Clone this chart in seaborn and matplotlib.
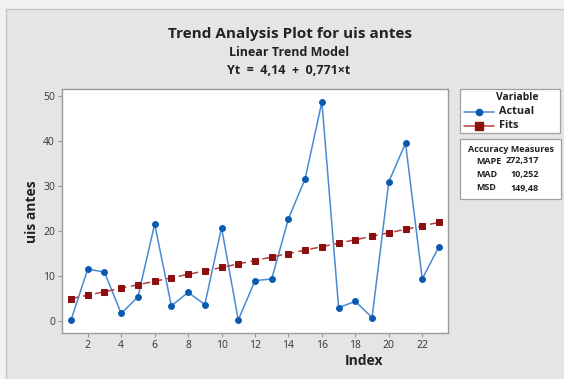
import matplotlib
matplotlib.use("Agg")
import matplotlib.pyplot as plt
from matplotlib.patches import Rectangle
from matplotlib.lines import Line2D
import seaborn as sns
import pandas as pd

# Observations of "uis antes" by index
index = list(range(1, 24))
actual = [0.15, 11.5, 10.8, 1.6, 5.3, 21.5, 3.3, 6.3, 3.6, 20.7, 0.15, 8.9,
          9.3, 22.7, 31.6, 48.7, 2.9, 4.3, 0.7, 30.9, 39.5, 9.3, 16.5]
# Fitted linear trend Yt = 4.14 + 0.771*t
fits = [4.911, 5.682, 6.453, 7.224, 7.995, 8.766, 9.537, 10.308, 11.079, 11.850,
        12.621, 13.392, 14.163, 14.934, 15.705, 16.476, 17.247, 18.018, 18.789,
        19.560, 20.331, 21.102, 21.873]
y_ticks = [0, 10, 20, 30, 40, 50]
x_ticks = [2, 4, 6, 8, 10, 12, 14, 16, 18, 20, 22]
measure_names = ["MAPE", "MAD", "MSD"]
measure_values = ["272,317", "10,252", "149,48"]

sns.set_theme(style="white")
plt.rcParams["font.family"] = ["Open Sans", "DejaVu Sans"]

OUTER = "#f2f2f2"
BG = "#e5e5e5"
BLUE = "#0a5bb0"
BLUE_LINE = "#4a8ad0"
RED = "#8b1111"
RED_LINE = "#b54040"
TXT = "#222222"

W, H = 564, 379
fig = plt.figure(figsize=(W / 100, H / 100), dpi=100, facecolor=OUTER)

def fx(px):
    return px / W

def fy(py):
    return 1 - py / H

# Gray graph panel with its left/top border
fig.patches.append(Rectangle((fx(6), fy(385)), fx(600), (385 - 9) / H,
                             transform=fig.transFigure, facecolor=BG,
                             edgecolor="none", zorder=-5))
fig.lines.append(Line2D([fx(6), fx(6)], [fy(9), 0], transform=fig.transFigure,
                        color="#c6c6c6", lw=1.0, zorder=-4))
fig.lines.append(Line2D([fx(6), 1], [fy(9), fy(9)], transform=fig.transFigure,
                        color="#c6c6c6", lw=1.0, zorder=-4))

ax = fig.add_axes([fx(62), fy(333), fx(448 - 62), (333 - 89) / H])
ax.set_facecolor("white")
ax.set_zorder(1)

df = pd.DataFrame({"Index": index, "Actual": actual, "Fits": fits})

sns.lineplot(data=df, x="Index", y="Actual", ax=ax, color=BLUE_LINE, lw=1.1,
             marker="o", markersize=4.2, markerfacecolor=BLUE,
             markeredgecolor=BLUE, zorder=3)
sns.lineplot(data=df, x="Index", y="Fits", ax=ax, color=RED_LINE, lw=1.1,
             linestyle=(0, (5, 3)), marker="s", markersize=4.8,
             markerfacecolor=RED, markeredgecolor=RED, zorder=4)

ax.set_xlim(0.46, 23.54)
ax.set_ylim(-2.74, 51.56)
ax.set_xticks(x_ticks)
ax.set_yticks(y_ticks)
ax.tick_params(axis="both", which="major", direction="out", length=3,
               width=0.8, color="#999999", labelsize=7.5, labelcolor="#333333",
               pad=2, bottom=True, left=True)
for s in ax.spines.values():
    s.set_color("#9a9a9a")
    s.set_linewidth(1.0)
ax.set_xlabel("Index", fontsize=10, color=TXT, fontweight="bold")
ax.set_ylabel("uis antes", fontsize=10, color=TXT, fontweight="bold")
ax.xaxis.set_label_coords((364 - 62) / (448 - 62), -(354 - 333) / (333 - 89))
ax.yaxis.set_label_coords(-(62 - 39) / (448 - 62), (333 - 212) / (333 - 89))

# Titles
fig.text(fx(290), fy(34), "Trend Analysis Plot for uis antes", ha="center",
         va="center", fontsize=11, fontweight="bold", color=TXT)
fig.text(fx(289), fy(53), "Linear Trend Model", ha="center", va="center",
         fontsize=9, fontweight="bold", color=TXT)
fig.text(fx(289), fy(70), "Yt  =  4,14  +  0,771\u00d7t", ha="center",
         va="center", fontsize=9, fontweight="bold", color=TXT)

# Legend box
fig.patches.append(Rectangle((fx(460), fy(133)), fx(100), (133 - 89) / H,
                             transform=fig.transFigure, facecolor="white",
                             edgecolor="#a0a0a0", lw=0.9))
fig.text(fx(517), fy(98), "Variable", ha="center", va="center", fontsize=7.5,
         fontweight="bold", color=TXT)
fig.lines.append(Line2D([fx(464), fx(494)], [fy(112), fy(112)],
                        transform=fig.transFigure, color=BLUE_LINE, lw=1.1))
fig.lines.append(Line2D([fx(479)], [fy(112)], transform=fig.transFigure,
                        marker="o", markersize=4.5, color=BLUE))
fig.text(fx(499), fy(112), "Actual", ha="left", va="center", fontsize=7.8,
         fontweight="bold", color=TXT)
fig.lines.append(Line2D([fx(464), fx(494)], [fy(126), fy(126)],
                        transform=fig.transFigure, color=RED_LINE, lw=1.1))
fig.lines.append(Line2D([fx(479)], [fy(126)], transform=fig.transFigure,
                        marker="s", markersize=5.5, color=RED))
fig.text(fx(499), fy(126), "Fits", ha="left", va="center", fontsize=7.8,
         fontweight="bold", color=TXT)

# Accuracy measures box
fig.patches.append(Rectangle((fx(460), fy(199)), fx(101), (199 - 139) / H,
                             transform=fig.transFigure, facecolor="white",
                             edgecolor="#a0a0a0", lw=0.9))
fig.text(fx(511), fy(149), "Accuracy Measures", ha="center", va="center",
         fontsize=6.5, fontweight="bold", color=TXT)
row_y = [161, 175, 188]
for name, val, py in zip(measure_names, measure_values, row_y):
    fig.text(fx(476), fy(py), name, ha="left", va="center", fontsize=6.5,
             fontweight="bold", color=TXT)
    fig.text(fx(539), fy(py), val, ha="right", va="center", fontsize=6.5,
             fontweight="bold", color=TXT)

fig.savefig("out.png", dpi=100, facecolor=OUTER)
